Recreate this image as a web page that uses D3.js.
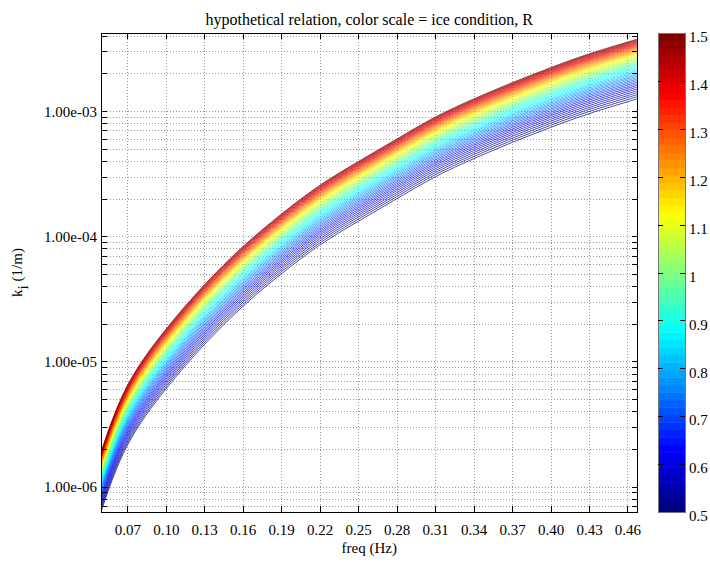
<!DOCTYPE html>
<html><head><meta charset="utf-8">
<script src="https://cdn.jsdelivr.net/npm/d3@7"></script>
<style>
body{margin:0;background:#fff}
text{font-family:"Liberation Serif","Times New Roman",serif;fill:#000}
</style>
</head><body>
<svg id="c" width="710" height="562"></svg>
<script>
// ---- data ----
// frequency samples (Hz)
const freq = [0.0495,0.07,0.10,0.13,0.16,0.19,0.22,0.25,0.28,0.31,0.34,0.37,0.40,0.43,0.46,0.4678];
// log10 of k_i (1/m) for ice condition R = 1 (curves scale linearly with R)
const logKiR1 = [-5.90,-5.37,-4.92,-4.565,-4.26,-4.00,-3.77,-3.58,-3.40,-3.225,-3.08,-2.95,-2.83,-2.72,-2.625,-2.60];
// ice condition values, one curve each
const iceR = [0.50,0.52,0.54,0.56,0.58,0.60,0.62,0.64,0.66,0.68,0.70,0.72,0.74,0.76,0.78,0.80,0.82,0.84,0.86,0.88,
              0.90,0.92,0.94,0.96,0.98,1.00,1.02,1.04,1.06,1.08,1.10,1.12,1.14,1.16,1.18,1.20,1.22,1.24,1.26,1.28,
              1.30,1.32,1.34,1.36,1.38,1.40,1.42,1.44,1.46,1.48,1.50];
const xTicks = [0.07,0.10,0.13,0.16,0.19,0.22,0.25,0.28,0.31,0.34,0.37,0.40,0.43,0.46];
const xTickLabels = ["0.07","0.10","0.13","0.16","0.19","0.22","0.25","0.28","0.31","0.34","0.37","0.40","0.43","0.46"];
const yMajor = [1e-6,1e-5,1e-4,1e-3];
const yMajorLabels = ["1.00e-06","1.00e-05","1.00e-04","1.00e-03"];
const cbTicks = [0.5,0.6,0.7,0.8,0.9,1.0,1.1,1.2,1.3,1.4,1.5];
const cbTickLabels = ["0.5","0.6","0.7","0.8","0.9","1","1.1","1.2","1.3","1.4","1.5"];
const xDomain = [0.0495,0.4678];
const yDomain = [6.28e-7,4.2e-3];
const cDomain = [0.5,1.5];
const nColors = 64;

// ---- layout ----
const L=101, R=637.5, T=33, B=512;
const svg = d3.select("#c");

const x = d3.scaleLinear().domain(xDomain).range([L,R]);
const y = d3.scaleLog().domain(yDomain).range([B,T]);

function jet(t){
  const cl = v => Math.max(0,Math.min(1,v));
  const r = cl(1.5-Math.abs(4*t-3)), g = cl(1.5-Math.abs(4*t-2)), b = cl(1.5-Math.abs(4*t-1));
  return d3.rgb(r*255,g*255,b*255).toString();
}
const cmap = d3.range(nColors).map(i => jet(i/(nColors-1)));
const colorIndex = d3.scaleQuantize().domain(cDomain).range(d3.range(nColors));

// minor y values
const yMinor = [];
for (let d=-7; d<=-2; d++) for (let m=1; m<=9; m++){
  const v = m*Math.pow(10,d);
  if (v>=yDomain[0] && v<=yDomain[1]) yMinor.push(v);
}

// grid
const grid = svg.append("g").attr("stroke","#9a9a9a").attr("stroke-width",1)
  .attr("stroke-dasharray","1,2").attr("shape-rendering","crispEdges");
grid.selectAll("line.v").data(xTicks).join("line")
  .attr("x1",d=>Math.round(x(d))+0.5).attr("x2",d=>Math.round(x(d))+0.5).attr("y1",T).attr("y2",B);
grid.selectAll("line.h").data(yMinor).join("line")
  .attr("y1",d=>Math.round(y(d))+0.5).attr("y2",d=>Math.round(y(d))+0.5).attr("x1",L).attr("x2",R);

// curves
svg.append("clipPath").attr("id","pc").append("rect")
  .attr("x",L).attr("y",T).attr("width",R-L).attr("height",B-T);
const line = d3.line().x(d=>x(d[0])).y(d=>y(d[1])).curve(d3.curveNatural);
svg.append("g").attr("clip-path","url(#pc)").selectAll("path").data(iceR).join("path")
  .attr("fill","none").attr("stroke-width",0.7)
  .attr("stroke",r=>cmap[colorIndex(r)])
  .attr("d",r=>line(freq.map((f,i)=>[f, r*Math.pow(10,logKiR1[i])])));

// axes (ticks inward)
const fmtY = d => { const i = yMajor.findIndex(v=>Math.abs(v-d)/v<1e-6); return i>=0?yMajorLabels[i]:""; };
const gl = svg.append("g").attr("transform",`translate(${L},0)`)
  .call(d3.axisLeft(y).tickValues(yMinor).tickSize(-6).tickPadding(4).tickFormat(fmtY));
const gr = svg.append("g").attr("transform",`translate(${R},0)`)
  .call(d3.axisRight(y).tickValues(yMinor).tickSize(-6).tickFormat(""));
const gb = svg.append("g").attr("transform",`translate(0,${B})`)
  .call(d3.axisBottom(x).tickValues(xTicks).tickSize(-6).tickPadding(12).tickFormat((d,i)=>xTickLabels[i]));
const gt = svg.append("g").attr("transform",`translate(0,${T})`)
  .call(d3.axisTop(x).tickValues(xTicks).tickSize(-6).tickFormat(""));
[gl,gr,gb,gt].forEach(g=>{
  g.select(".domain").remove();
  g.selectAll(".tick line").attr("stroke","#000").attr("shape-rendering","crispEdges");
  g.selectAll("text").attr("font-size",15).attr("font-family","Liberation Serif, serif");
});
gl.selectAll("text").attr("dy","0.35em");

// frame
svg.append("rect").attr("x",L).attr("y",T).attr("width",R-L).attr("height",B-T)
  .attr("fill","none").attr("stroke","#000").attr("stroke-width",1).attr("shape-rendering","crispEdges");

// titles
svg.append("text").attr("x",(L+R)/2).attr("y",25).attr("text-anchor","middle")
  .attr("font-size",16).text("hypothetical relation, color scale = ice condition, R");
svg.append("text").attr("x",(L+R)/2).attr("y",553).attr("text-anchor","middle")
  .attr("font-size",15).text("freq (Hz)");
const yl = svg.append("text").attr("transform",`translate(22,${(T+B)/2}) rotate(-90)`)
  .attr("text-anchor","middle").attr("font-size",15);
yl.append("tspan").text("k");
yl.append("tspan").attr("dy",6).text("i");
yl.append("tspan").attr("dy",-6).text(" (1/m)");

// colorbar
const cbX=658, cbW=27;
const cy = d3.scaleLinear().domain(cDomain).range([B,T]);
const bandH = (B-T)/nColors;
svg.append("g").selectAll("rect").data(cmap).join("rect")
  .attr("x",cbX).attr("width",cbW)
  .attr("y",(c,i)=>B-(i+1)*bandH).attr("height",bandH+0.5).attr("fill",c=>c);
svg.append("rect").attr("x",cbX).attr("y",T).attr("width",cbW).attr("height",B-T)
  .attr("fill","none").attr("stroke","#777").attr("shape-rendering","crispEdges");
const cbt = svg.append("g");
cbt.selectAll("line.l").data(cbTicks.slice(1,-1)).join("line")
  .attr("x1",cbX).attr("x2",cbX+5).attr("y1",d=>Math.round(cy(d))+0.5).attr("y2",d=>Math.round(cy(d))+0.5)
  .attr("stroke","#000").attr("shape-rendering","crispEdges");
cbt.selectAll("line.r").data(cbTicks.slice(1,-1)).join("line")
  .attr("x1",cbX+cbW-5).attr("x2",cbX+cbW).attr("y1",d=>Math.round(cy(d))+0.5).attr("y2",d=>Math.round(cy(d))+0.5)
  .attr("stroke","#000").attr("shape-rendering","crispEdges");
cbt.selectAll("text").data(cbTicks).join("text")
  .attr("x",cbX+cbW+4).attr("y",d=>cy(d)+4).attr("dy","0.35em").attr("font-size",15)
  .text((d,i)=>cbTickLabels[i]);
</script>
</body></html>
